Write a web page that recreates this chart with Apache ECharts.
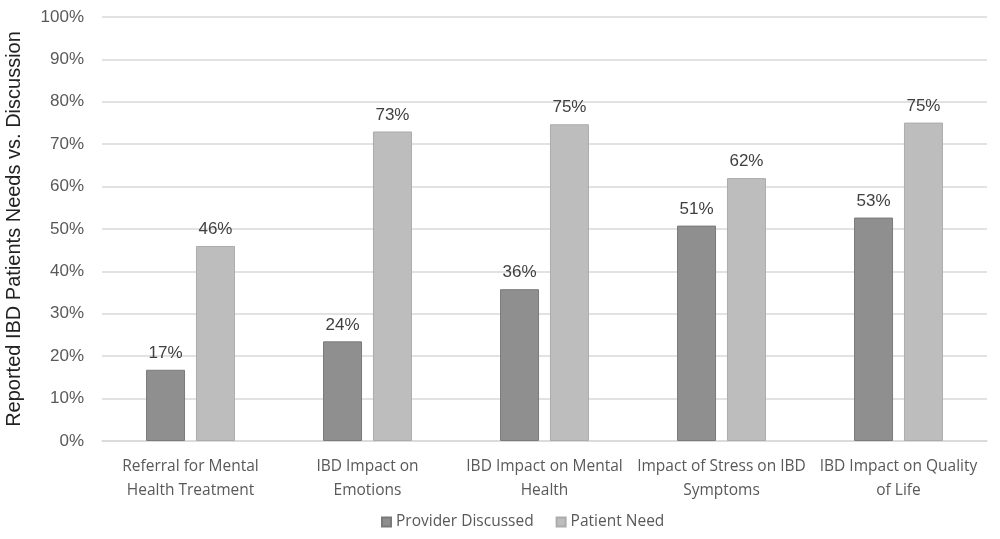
<!DOCTYPE html>
<html lang="en">
<head>
    <meta charset="UTF-8">
    <title>IBD patient needs vs discussion</title>
    <script src="https://cdn.jsdelivr.net/npm/echarts@6/dist/echarts.min.js"></script>
    <style>
        html, body { margin: 0; padding: 0; background: #fff; }
        #main { width: 1000px; height: 539px; }
    </style>
</head>
<body>
<div id="main"></div>
<script>
    // data
    const categories = [
        'Referral for Mental\nHealth Treatment',
        'IBD Impact on\nEmotions',
        'IBD Impact on Mental\nHealth',
        'Impact of Stress on IBD\nSymptoms',
        'IBD Impact on Quality\nof Life'
    ];
    const providerDiscussed = [16.8, 23.5, 35.8, 50.8, 52.7];
    const patientNeed = [46.0, 73.0, 74.7, 62.0, 75.1];
    const yTicks = [0, 10, 20, 30, 40, 50, 60, 70, 80, 90, 100];

    const chart = echarts.init(document.getElementById('main'), null, { renderer: 'canvas' });

    const labelStyle = {
        show: true,
        position: 'top',
        distance: 8,
        fontFamily: 'Liberation Sans, Arial, sans-serif',
        fontSize: 17,
        color: '#404040',
        formatter: p => Math.round(p.value) + '%'
    };

    chart.setOption({
        animation: false,
        legend: {
            bottom: 4,
            left: 376,
            itemWidth: 9,
            itemHeight: 9,
            itemGap: 22,
            icon: 'rect',
            textStyle: { fontFamily: 'Open Sans, Lato, sans-serif', fontSize: 15.5, color: '#595959' },
            data: ['Provider Discussed', 'Patient Need']
        },
        grid: { left: 102, right: 13, top: 17, bottom: 98, containLabel: false, outerBoundsMode: 'none' },
        xAxis: {
            type: 'category',
            data: categories,
            axisTick: { show: false },
            axisLine: { lineStyle: { color: '#d9d9d9', width: 1.5 } },
            axisLabel: {
                interval: 0,
                margin: 14,
                fontFamily: 'Open Sans, Lato, sans-serif',
                fontSize: 15.5,
                lineHeight: 24,
                color: '#595959'
            }
        },
        yAxis: {
            type: 'value',
            min: yTicks[0],
            max: yTicks[yTicks.length - 1],
            interval: 10,
            name: 'Reported IBD Patients Needs vs. Discussion',
            nameLocation: 'middle',
            nameGap: 78,
            nameRotate: 90,
            nameTextStyle: { fontFamily: 'Liberation Sans, Arial, sans-serif', fontSize: 20, color: '#222' },
            axisLine: { show: false },
            axisTick: { show: false },
            splitLine: { lineStyle: { color: '#d9d9d9', width: 1.5 } },
            axisLabel: {
                margin: 18,
                fontFamily: 'Liberation Sans, Arial, sans-serif',
                fontSize: 17,
                color: '#595959',
                formatter: '{value}%'
            }
        },
        series: [
            {
                name: 'Provider Discussed',
                type: 'bar',
                data: providerDiscussed,
                barWidth: 39,
                barGap: '28%',
                itemStyle: { color: '#8f8f8f', borderColor: '#7a7a7a', borderWidth: 1 },
                label: labelStyle
            },
            {
                name: 'Patient Need',
                type: 'bar',
                data: patientNeed,
                barWidth: 39,
                itemStyle: { color: '#bdbdbd', borderColor: '#acacac', borderWidth: 1 },
                label: labelStyle
            }
        ]
    });
</script>
</body>
</html>
